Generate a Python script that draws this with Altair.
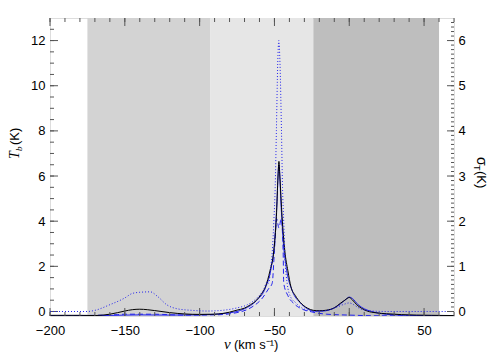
import altair as alt
import pandas as pd

# ---------------- data ----------------
v_tb = [-200, -180, -170, -160, -150, -145, -140, -135, -130, -120, -110, -100, -90, -80, -75, -70,
        -66, -62, -59, -56, -53, -50.4, -48.7, -47.6, -47.0, -46.4, -44.9, -43.1, -41, -39, -36,
        -32.7, -28, -24, -20, -15, -10, -6, -3, 0, 2, 5, 8, 12, 18, 25, 35, 45, 55, 70]
tb = [-0.17, -0.17, -0.18, -0.12, 0.02, 0.08, 0.10, 0.08, 0.04, -0.05, -0.11, -0.13, -0.12, -0.03, 0.06, 0.15,
      0.30, 0.50, 0.75, 1.10, 1.80, 2.70, 4.20, 6.00, 6.65, 6.00, 4.20, 2.70, 1.80, 1.10, 0.70,
      0.40, 0.15, 0.05, 0.03, 0.06, 0.16, 0.36, 0.50, 0.62, 0.52, 0.30, 0.15, 0.02, -0.06, -0.10, -0.14, -0.16, -0.17, -0.18]

v_fit = [-200, -175, -150, -140, -120, -100, -80, -70, -62, -56, -52, -50, -48.5, -47, -45.5, -44, -42,
         -38, -33, -28, -24, -18, -12, -6, -2, 0, 2, 6, 10, 15, 20, 30, 45, 70]
fit = [-0.19, -0.19, -0.16, -0.15, -0.16, -0.15, -0.06, 0.12, 0.48, 1.05, 2.0, 3.0, 4.6, 6.5, 4.6, 3.0, 1.9,
       0.9, 0.4, 0.12, 0.02, 0.02, 0.10, 0.33, 0.55, 0.64, 0.58, 0.30, 0.12, 0.0, -0.08, -0.15, -0.18, -0.19]

v_comp = [-200, -170, -155, -150, -140, -130, -125, -110, -90, -75, -65, -58, -54, -51.5, -50, -48.5,
          -47, -45.5, -44.2, -43.8, -41, -37, -32, -25, -15, 0, 20, 70]
comp = [-0.19, -0.17, -0.14, -0.12, -0.12, -0.12, -0.13, -0.16, -0.15, -0.05, 0.2, 0.6, 1.0, 1.25, 2.7, 4.1,
        3.7, 4.1, 2.7, 1.25, 0.7, 0.35, 0.12, -0.02, -0.12, -0.16, -0.19, -0.19]

# sigma_T (right axis, K)
v_sig = [-200, -180, -175, -170, -160, -150, -145, -140, -133, -128, -122, -115, -105, -95, -85, -75,
         -68, -62, -57, -55, -53.8, -52.7, -51.5, -50.4, -49.5, -48.7, -47.8, -47.1, -46.3, -45.3,
         -44.6, -43.8, -42.8, -41.5, -39.3, -36, -32.7, -28, -23.8, -15, -8, -3, 0, 3, 8, 15, 25, 70]
sig = [0.0, 0.0, 0.0, 0.025, 0.15, 0.30, 0.40, 0.425, 0.435, 0.33, 0.15, 0.06, 0.025, 0.01, 0.025, 0.08,
       0.15, 0.29, 0.50, 0.65, 0.625, 0.925, 1.3, 2.0, 2.75, 4.0, 5.5, 6.0, 5.5, 4.0,
       2.75, 2.0, 1.1, 0.625, 0.33, 0.20, 0.10, 0.03, 0.0, 0.025, 0.10, 0.165, 0.19, 0.15, 0.05, 0.01, 0.0, 0.0]

# shaded velocity ranges
band_start = [-175, -93, -24]
band_end = [-93, -24, 60]
band_color = ["#d3d3d3", "#e6e6e6", "#bebebe"]

x_major = [-200, -150, -100, -50, 0, 50]
x_minor = list(range(-200, 71, 10))
yl_major = [0, 2, 4, 6, 8, 10, 12]
yl_minor = [i * 0.5 for i in range(0, 26)]
yr_major = [0, 1, 2, 3, 4, 5, 6]
yr_minor = [round(i * 0.1, 1) for i in range(0, 65)]

W, H = 404, 298
FONT = "Liberation Sans"
AX = "#555555"

xs = alt.Scale(domain=[-200, 70], nice=False, zero=False)
yls = alt.Scale(domain=[-0.2, 13], nice=False, zero=False)
yrs = alt.Scale(domain=[-0.1, 6.5], nice=False, zero=False)

x_axis = alt.Axis(values=x_major, tickSize=0, domain=False, grid=False, labelFlush=False,
                  labelFont=FONT, labelFontSize=13, labelColor="black", labelPadding=8, title=None)
left_axis = alt.Axis(values=yl_major, tickSize=0, domain=False, grid=False, labelFont=FONT,
                     labelFontSize=13, labelColor="black", labelPadding=5, title=None, orient="left")
right_axis = alt.Axis(values=yr_major, tickSize=0, domain=False, grid=False, labelFont=FONT,
                      labelFontSize=13, labelColor="black", labelPadding=4, title=None, orient="right")

# ---------------- left (T_b) layer ----------------
bands = alt.Chart(pd.DataFrame({"a": band_start, "b": band_end, "c": band_color})).mark_rect().encode(
    x=alt.X("a:Q", scale=xs, axis=x_axis),
    x2="b:Q",
    y=alt.value(0), y2=alt.value(H),
    color=alt.Color("c:N", scale=None),
)

def line(vs, vals, color, dash=None, scale=yls, axis=left_axis):
    df = pd.DataFrame({"v": vs, "t": vals})
    kw = dict(color=color, strokeWidth=1, clip=True, interpolate="monotone")
    if dash:
        kw["strokeDash"] = dash
    return alt.Chart(df).mark_line(**kw).encode(
        x=alt.X("v:Q", scale=xs, axis=x_axis),
        y=alt.Y("t:Q", scale=scale, axis=axis),
    )

comp_line = line(v_comp, comp, "#2222ee", dash=[5, 3])
fit_line = line(v_fit, fit, "#2222ee")
tb_line = line(v_tb, tb, "black")

def xticks(vals, length):
    df = pd.DataFrame({"v": vals})
    bot = alt.Chart(df).mark_rule(color=AX, strokeWidth=1).encode(
        x=alt.X("v:Q", scale=xs, axis=x_axis), y=alt.value(H), y2=alt.value(H - length))
    top = alt.Chart(df).mark_rule(color=AX, strokeWidth=1).encode(
        x=alt.X("v:Q", scale=xs, axis=x_axis), y=alt.value(0), y2=alt.value(length))
    return [bot, top]

def yticks(vals, length, scale, axis, right=False):
    df = pd.DataFrame({"t": vals})
    if right:
        x1, x2 = alt.value(W), alt.value(W - length)
    else:
        x1, x2 = alt.value(0), alt.value(length)
    return alt.Chart(df).mark_rule(color=AX, strokeWidth=1).encode(
        y=alt.Y("t:Q", scale=scale, axis=axis), x=x1, x2=x2)

left = alt.layer(bands, comp_line, fit_line, tb_line,
                 *xticks(x_minor, 4), *xticks(x_major, 8),
                 yticks(yl_minor, 4, yls, left_axis), yticks(yl_major, 8, yls, left_axis))

# ---------------- right (sigma_T) layer ----------------
sig_line = line(v_sig, sig, "#2222ee", dash=[1, 2], scale=yrs, axis=right_axis)
right = alt.layer(sig_line,
                  yticks(yr_minor, 3, yrs, right_axis, right=True),
                  yticks(yr_major, 7, yrs, right_axis, right=True))

# ---------------- titles ----------------
def txt(s, x, y, size=13, angle=0, style="normal", font=FONT, baseline="middle", align="left"):
    return alt.Chart(pd.DataFrame({"s": [s]})).mark_text(
        font=font, fontSize=size, fontStyle=style, angle=angle, baseline=baseline, align=align,
        color="black").encode(text="s:N", x=alt.value(x), y=alt.value(y))

titles = alt.layer(
    # left: T_b (K)
    txt("T", -35, 141, size=14, angle=270, style="italic", font="Liberation Serif"),
    txt("b", -31, 133, size=9, angle=270, style="italic", font="Liberation Serif"),
    txt("(K)", -35, 127, angle=270),
    # right: sigma_T (K)
    txt("σ", 431, 139, size=14, angle=90),
    txt("T", 427, 147, size=9, angle=90),
    txt("(K)", 431, 153, angle=90),
    # bottom: v (km s^-1)
    txt("v", 174, 326, size=15, style="italic", font="Liberation Serif"),
    txt("(km s\u207b\u00b9)", 184, 327),
)

chart = alt.layer(left, right, titles).resolve_scale(y="independent").properties(
    width=W, height=H,
    padding={"left": 42, "top": 10, "right": 42, "bottom": 36},
    autosize=alt.AutoSizeParams(type="none"),
).configure_view(stroke=AX, strokeWidth=1).configure(background="white")

chart.save("out.html", embed_options={"renderer": "svg", "actions": False})
